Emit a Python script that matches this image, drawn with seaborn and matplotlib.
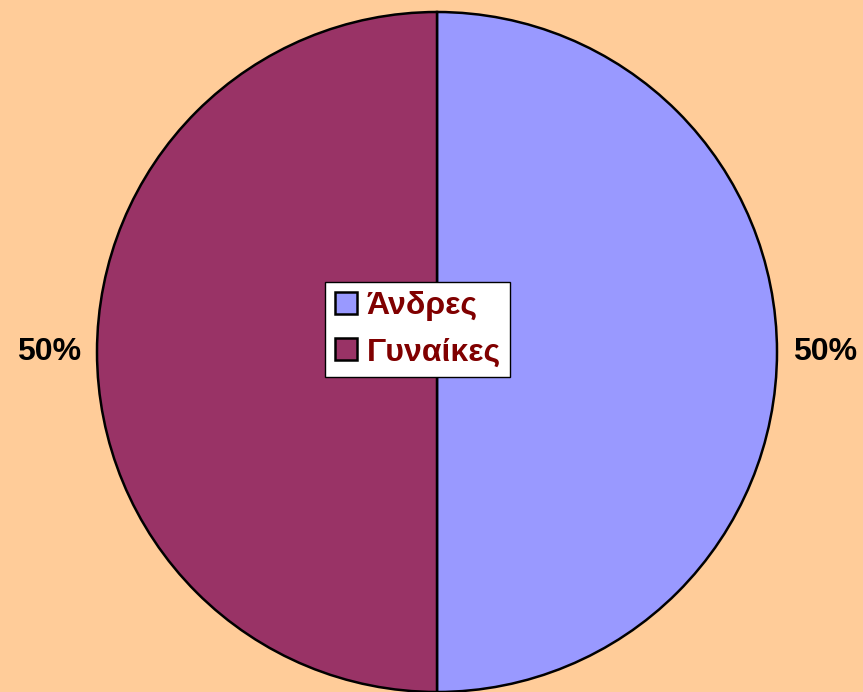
import matplotlib
matplotlib.use("Agg")
import matplotlib.pyplot as plt
import seaborn as sns

# data
categories = ["Άνδρες", "Γυναίκες"]
values = [50, 50]
colors = ["#9999FF", "#993366"]

sns.set_theme(style="white")
plt.rcParams['font.family'] = ['Liberation Sans', 'DejaVu Sans']

fig = plt.figure(figsize=(8.63, 6.92), dpi=100, facecolor="#FFCC99")
ax = fig.add_axes([0, 0, 1, 1])
ax.set_facecolor("#FFCC99")

wedges, texts, autotexts = ax.pie(
    values, colors=colors, startangle=90, counterclock=False,
    autopct="%1.0f%%", pctdistance=1.142,
    wedgeprops=dict(edgecolor="black", linewidth=1.8),
    textprops=dict(fontsize=23, fontweight="bold", color="black"))

ax.set_xlim(-437 / 340, 426 / 340)
ax.set_ylim(-1.0, 352 / 340)
ax.set_aspect("equal")
ax.axis("off")

leg = ax.legend(wedges, categories, loc="center", bbox_to_anchor=(0.484, 0.524),
                prop=dict(size=23, weight="bold"), labelcolor="#800000",
                frameon=True, fancybox=False, handlelength=0.7, handleheight=0.7,
                handletextpad=0.3, borderpad=0.3, labelspacing=0.5)
leg.get_frame().set_edgecolor("black")
leg.get_frame().set_linewidth(1.0)
leg.get_frame().set_alpha(1)
for h in leg.legend_handles:
    h.set_linewidth(1.8)

fig.savefig("out.png", dpi=100, facecolor=fig.get_facecolor())
